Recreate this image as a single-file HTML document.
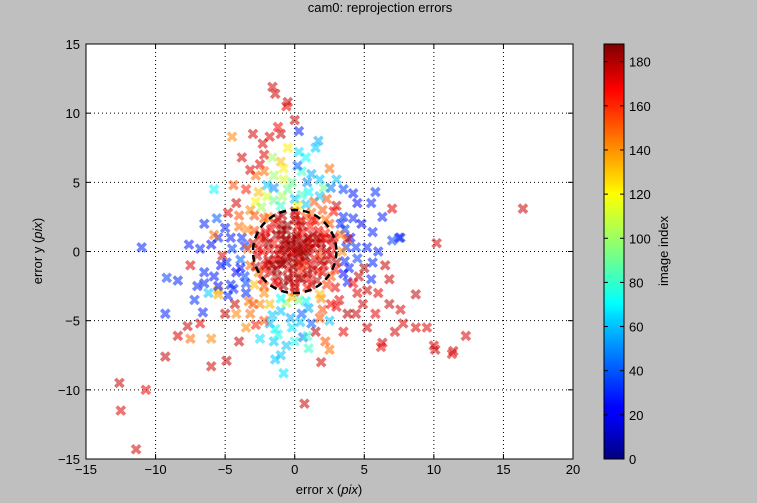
<!DOCTYPE html>
<html><head><meta charset="utf-8"><style>
body{margin:0;background:#bfbfbf;width:757px;height:503px;overflow:hidden;font-family:"Liberation Sans",sans-serif}
svg{display:block}
svg text{font-family:"Liberation Sans",sans-serif;font-size:13px;fill:#000}
</style></head><body>
<svg id="chart" width="757" height="503" xmlns="http://www.w3.org/2000/svg">
<text x="380" y="12" text-anchor="middle">cam0: reprojection errors</text>
<rect x="86" y="44" width="487" height="415" fill="#fff"/>
<g id="grid"></g>
<g id="marks"></g>
<ellipse cx="294.7" cy="251.5" rx="41.7" ry="41.5" fill="none" stroke="#000" stroke-width="2.5" stroke-dasharray="7,5"/>
<rect x="86" y="44" width="487" height="415" fill="none" stroke="#000" stroke-width="1"/>
<g id="axes"></g>
<text x="329" y="494" text-anchor="middle">error x (<tspan font-style="italic">pix</tspan>)</text>
<text transform="translate(42,251) rotate(-90)" text-anchor="middle">error y (<tspan font-style="italic">pix</tspan>)</text>
<defs><linearGradient id="jet" x1="0" y1="1" x2="0" y2="0">
<stop offset="0" stop-color="#00007f"/><stop offset="0.11" stop-color="#0000ff"/><stop offset="0.125" stop-color="#0000ff"/><stop offset="0.34" stop-color="#00d4ff"/><stop offset="0.375" stop-color="#0ff"/><stop offset="0.5" stop-color="#7fff7f"/><stop offset="0.64" stop-color="#ff0"/><stop offset="0.66" stop-color="#ffe600"/><stop offset="0.89" stop-color="#f00"/><stop offset="1" stop-color="#7f0000"/>
</linearGradient></defs>
<rect x="604" y="44" width="20" height="415" fill="url(#jet)" stroke="#000"/>
<g id="cbar"></g>
<text transform="translate(668,251) rotate(-90)" text-anchor="middle">image index</text>
</svg>
<script>
const xTicks=[-15,-10,-5,0,5,10,15,20];
const yTicks=[-15,-10,-5,0,5,10,15];
const cTicks=[0,20,40,60,80,100,120,140,160,180];
const outliers=[[16.4,3.1,175],[10.2,0.6,172],[-11,0.3,30],[-12.6,-9.5,175],[-12.5,-11.5,170],[-11.4,-14.3,172],[-10.7,-10,168],[-9.3,-7.6,175],[-9.3,-4.5,30],[-9.2,-1.9,35],[-8.4,-2.1,30],[-7.6,0.5,28],[0.7,-11,175],[12.3,-6.1,172],[11.4,-7.2,175],[11.3,-7.4,170],[10,-6.8,170],[10.1,-7.1,175],[8.7,-5.5,172],[8.7,-3.1,175],[7.6,-4.2,170],[7.2,-5.8,172],[6.3,-6.6,175],[6.2,-6.9,168],[7,3.1,170],[7.6,1,30],[5.8,4.3,32],[-1.6,11.9,172],[-1.4,11.4,175],[-0.5,10.8,175],[-0.6,10.5,170],[-5.8,4.5,70],[-4.5,8.3,140],[-2.3,7.8,170],[0.3,8.7,30],[-8.4,-6.1,172],[-7.7,-5.4,175],[-6.8,-5.2,170],[-6,-6.3,140],[-7.5,-6.3,145],[-6,-8.3,172],[-4.9,-7.9,175],[-5.5,-3.1,135],[-5.5,-2.8,130],[-0.8,-8.8,65],[-1.4,-7.8,60],[1.9,-8,172],[2.5,-7.1,145],[-6.5,-2.3,30],[-7.2,-3.5,32],[-6.6,-4.4,30],[7.8,-5.2,172],[9.5,-5.5,170]];
const inner=[[0,0,175],[0.5,0.3,180],[-0.5,-0.4,170],[1,1,165],[-1,1.2,178],[1.2,-1,172],[-1.1,-0.9,168],[0.2,1.8,160],[0.3,-1.9,182],[1.9,0.2,176],[-1.8,0.1,171],[2.2,1.3,158],[-2.1,1.4,166],[2,-1.5,174],[-2.2,-1.3,163],[0.8,2.5,150],[-0.9,2.6,179],[0.9,-2.6,161],[-0.8,-2.5,185],[2.7,0.4,167],[-2.7,-0.3,173],[1.5,2.2,155],[-1.5,2.1,170],[1.6,-2.1,177],[-1.4,-2.2,164],[0.1,0.9,181],[0.1,-0.9,159],[0.9,0.1,169],[-0.9,0.2,175],[1.5,0.6,180],[-1.5,0.6,162],[1.4,-0.5,171],[-1.4,-0.6,176],[0.6,1.4,166],[-0.6,1.5,183],[0.5,-1.4,157],[-0.5,-1.3,172],[2.4,-0.6,178],[-2.4,0.8,160],[2.5,2,150],[-2.3,-2,168],[0,2.9,174],[0,-2.9,165],[3,-0.8,180],[-3,0.6,175],[1.1,1.8,162],[-1.2,-1.8,179],[1.8,-0.3,154],[-0.3,0.5,170],[0.4,-0.3,163],[1.2,2.8,145],[-1.9,2.5,140],[2.6,-1.8,148],[-2.6,-1.5,142],[3.3,1.2,145],[-3.2,-1,146],[0.3,0.5,178],[-0.2,-0.1,165],[0.7,-0.7,172],[-0.7,0.8,180],[1.7,1.5,170],[-1.7,-1.5,175],[1.7,-1.4,160],[-1.7,1.6,168],[2.3,0,176],[-2.3,0,162],[0,2.3,181],[0,-2.3,170],[2.8,1,170],[-2.8,-1.1,176],[1,-1.9,168],[-1,1.9,174],[2.9,-1.3,160],[-2.9,1.5,150],[0.4,2.2,175],[-0.4,-2.1,178],[1.3,0.3,170],[-1.2,-0.2,167],[0.2,1.3,172],[-0.1,-1.6,176],[2.2,2.3,145],[-2.2,2.4,150],[2.3,-2.4,155],[-2.2,-2.5,150],[-0.6,0.9,182],[0.6,-1,158],[1.9,0.9,175],[-1.9,-0.8,166],[3.4,0,140],[-3.4,0.2,148],[0.2,3.3,120],[-0.2,-3.3,130],[1,0.6,166],[-1,-0.6,180],[2.6,0.9,178],[-2.5,1.2,170]];
const innerDense=[[0.2,0.2,182],[-0.3,0.3,185],[0.3,-0.2,180],[-0.2,-0.5,183],[0.7,0.7,178],[-0.7,-0.7,181],[0.8,-0.4,184],[-0.8,0.5,177],[1.1,0.2,182],[-1.1,0.1,179],[0.1,1.1,180],[-0.1,-1.1,183],[1.3,1.2,175],[-1.3,1.2,181],[1.3,-1.3,178],[-1.3,-1.3,182],[0.5,1.9,176],[-0.5,1.9,183],[0.5,-2,179],[-0.5,-1.9,181],[1.9,0.6,177],[-1.9,0.6,183],[1.9,-0.7,180],[-1.9,-0.6,178],[2.1,-1,172],[-2.1,-1,175],[2.1,1,169],[-2.1,1,176],[1.3,2.3,168],[-1.2,2.4,174],[1.2,-2.4,173],[-1.2,-2.4,170],[2.6,-0.2,168],[-2.6,0.2,171],[0.1,2.6,170],[0,-2.6,175],[0.9,0.9,185],[-0.9,-0.9,184],[0.9,-1.6,180],[-0.9,1.6,182],[1.6,1,180],[-1.6,-1,183],[-0.2,0.8,184],[0.3,-0.8,181],[0.6,0,183],[-0.6,0,180]];
const ring=[[3.5,2.5,30],[4,1,25],[4.5,-0.5,35],[3.8,-2.2,28],[3.2,-3.5,170],[2,-4.2,150],[0.5,-4.5,40],[-1,-4.3,60],[-2.5,-3.8,140],[-3.5,-3,30],[-4.2,-1.5,25],[-4.5,0.2,35],[-4,1.8,145],[-3.2,3,140],[-2,4,110],[-0.5,4.5,90],[1,4.3,70],[2.3,3.8,150],[3,3.3,175],[4.8,2,20],[5.2,0.3,30],[5,-1.2,180],[4.5,-3,170],[2.5,-5,60],[-0.2,-5.5,65],[-1.8,-5.2,55],[-3.2,-4.5,145],[-4.8,-3.2,30],[-5.3,-1,22],[-5.5,1,30],[-4.8,2.8,170],[-3.5,4.5,160],[-1.5,5.5,100],[0.5,5.8,80],[1.8,5.2,60],[3.5,4.5,35],[-1,6.5,130],[0.8,6.8,70],[-2.2,7,170],[-0.5,7.5,120],[1.5,7.5,60],[-1,8.5,175],[0,9.5,175],[-1.2,9,165],[-1.8,8.3,170],[-3,8.5,172],[1.7,8,55],[-1.5,-6.5,60],[0,-6.5,75],[1,-7,80],[-2.5,-6.3,65],[2.2,-6.5,150],[-1,-7.5,60],[-3.5,-5.5,140],[-4,-6.5,175],[3.5,-5.8,170],[1.5,-5.8,178],[-6.5,-1.5,30],[-6,0.5,25],[-7,-2.5,30],[-6.5,2,30],[-5.5,-2.5,25],[-6.2,-3,60],[-5,-4.5,175],[-5.8,1.2,145],[-7.5,-1,170],[6,0,30],[6.5,-1,175],[5.5,-2,30],[6,-3,170],[7,0.8,35],[7.5,1,30],[6.8,-2,175],[5.5,3.5,30],[4.5,3.5,25],[3,5.2,60],[2.5,6,145],[3.8,-4.5,180],[5.8,-4.5,170],[5.2,-5.5,175],[-3.8,1,30],[-3.6,-1.8,35],[-3.9,-0.6,40],[3.7,0.3,32],[3.9,-1.2,28],[3.6,1.6,35],[-3,-3.8,150],[-1.8,-3.8,130],[-0.6,-3.7,100],[0.8,-3.6,70],[1.9,-3.4,140],[-2.8,3.6,120],[-1.5,3.7,90],[0,3.8,60],[1.4,3.6,150],[2.8,2.9,165],[-4.2,3.5,172],[-4.6,-2.4,30],[-2,4.8,60],[-0.8,5.2,110],[0.2,6.2,40],[-2.8,5.5,145],[-2.5,6.3,170],[-3.8,6.8,172],[-1.5,4.6,50],[0.9,5,50],[2.1,4.6,90],[-5.2,-0.3,170],[-4.3,-3.8,175],[4.2,-2.3,165],[4.9,-3.8,172],[5.6,-0.8,30],[-0.3,-4.8,55],[1.2,-5.2,40],[-1.2,-6,75],[0.6,-6.2,45],[-2.2,-5,150],[3,-4,170],[-5.6,2.4,40],[-6.8,0.2,30],[-4.4,4.8,150],[4.2,4.2,28],[6.3,2.5,30],[6.8,-3.8,175]];
const ringExtra=[[-3.6,0.4,30],[-3.9,-1.2,25],[-3.4,1.6,140],[-3.5,-2.3,35],[3.6,-0.7,30],[3.5,-1.6,25],[3.8,0.9,175],[3.3,2,30],[-2.9,2.6,150],[-2.4,3.2,100],[-1,3.3,80],[0.8,3.4,60],[2,3,150],[2.9,-2.6,170],[1.8,-3.1,130],[0.3,-3.5,90],[-1,-3.4,70],[-2.2,-3,140],[-2.9,-2.4,130],[-4.6,1,28],[-4.9,-0.8,32],[-4.4,-2.7,30],[4.4,0.3,32],[4.6,-1.8,175],[4.2,2.4,30],[-2.6,4.3,130],[-0.9,4,100],[0.5,4.1,80],[1.8,4,60],[-3.3,-3.6,145],[-1.6,-4.6,60],[1,-4.1,55],[2.6,-3.8,165],[-4,2.6,150],[-5,1.7,30],[-5.8,-1.8,28],[5.6,1.4,30],[5.2,-2.8,172],[-0.2,5,90],[1.2,5.6,55],[-2.2,5.8,145],[-3.2,5.9,170],[0.3,7.2,65],[-0.8,6,120],[-1.6,6.8,100],[2.6,4.6,45],[-1.4,-5.6,70],[0.4,-5.1,60],[1.8,-4.8,150],[-2.8,-5.3,160],[-0.6,-6.8,60],[0.9,-6.1,80],[4.4,-4.5,175],[-4.2,-4.5,140]];
const X0=86,X1=573,Y0=459,Y1=44;
const sx=v=>X0+(v+15)/35*(X1-X0);
const sy=v=>Y0-(v+15)/30*(Y0-Y1);
const cy=v=>459-v/188*415;
function jet(v){const t=Math.max(0,Math.min(1,v/188));
const f=x=>Math.round(255*Math.max(0,Math.min(1,1.5-Math.abs(4*t-x))));
return `rgb(${f(3)},${f(2)},${f(1)})`;}
const NS="http://www.w3.org/2000/svg";
function mk(tag,attrs,parent){const e=document.createElementNS(NS,tag);for(const k in attrs)e.setAttribute(k,attrs[k]);parent.appendChild(e);return e;}
const grid=document.getElementById('grid'),axes=document.getElementById('axes');
xTicks.forEach(t=>{const x=sx(t);
const g=mk('line',{x1:x,x2:x,y1:Y1,y2:Y0,stroke:'#000','stroke-dasharray':'1,3','stroke-width':1},grid);

mk('line',{x1:x,x2:x,y1:Y0,y2:Y0-5,stroke:'#000'},axes);mk('line',{x1:x,x2:x,y1:Y1,y2:Y1+5,stroke:'#000'},axes);
const l=mk('text',{x:x,y:474,'text-anchor':'middle'},axes);l.textContent=t<0?'\u2212'+(-t):t;
});
yTicks.forEach(t=>{const y=sy(t);
const g=mk('line',{x1:X0,x2:X1,y1:y,y2:y,stroke:'#000','stroke-dasharray':'1,3','stroke-width':1},grid);

mk('line',{x1:X0,x2:X0+5,y1:y,y2:y,stroke:'#000'},axes);mk('line',{x1:X1,x2:X1-5,y1:y,y2:y,stroke:'#000'},axes);
const l=mk('text',{x:80,y:y+5,'text-anchor':'end'},axes);l.textContent=t<0?'\u2212'+(-t):t;
});
const cb=document.getElementById('cbar');
cTicks.forEach(t=>{const y=cy(t);
mk('line',{x1:604,x2:608,y1:y,y2:y,stroke:'#000'},cb);mk('line',{x1:624,x2:620,y1:y,y2:y,stroke:'#000'},cb);
const l=mk('text',{x:629,y:y+5},cb);l.textContent=t;
});
const marks=document.getElementById('marks');
const all=[...outliers,...ring,...ringExtra,...inner,...innerDense];
all.forEach(p=>{const x=sx(p[0]),y=sy(p[1]),s=2.8;
const m=mk('path',{d:`M${x-s},${y-s}L${x+s},${y+s}M${x-s},${y+s}L${x+s},${y-s}`,stroke:jet(p[2]),'stroke-width':3.6,'stroke-linecap':'square',opacity:0.55,fill:'none'},marks);

});
</script>
</body></html>
